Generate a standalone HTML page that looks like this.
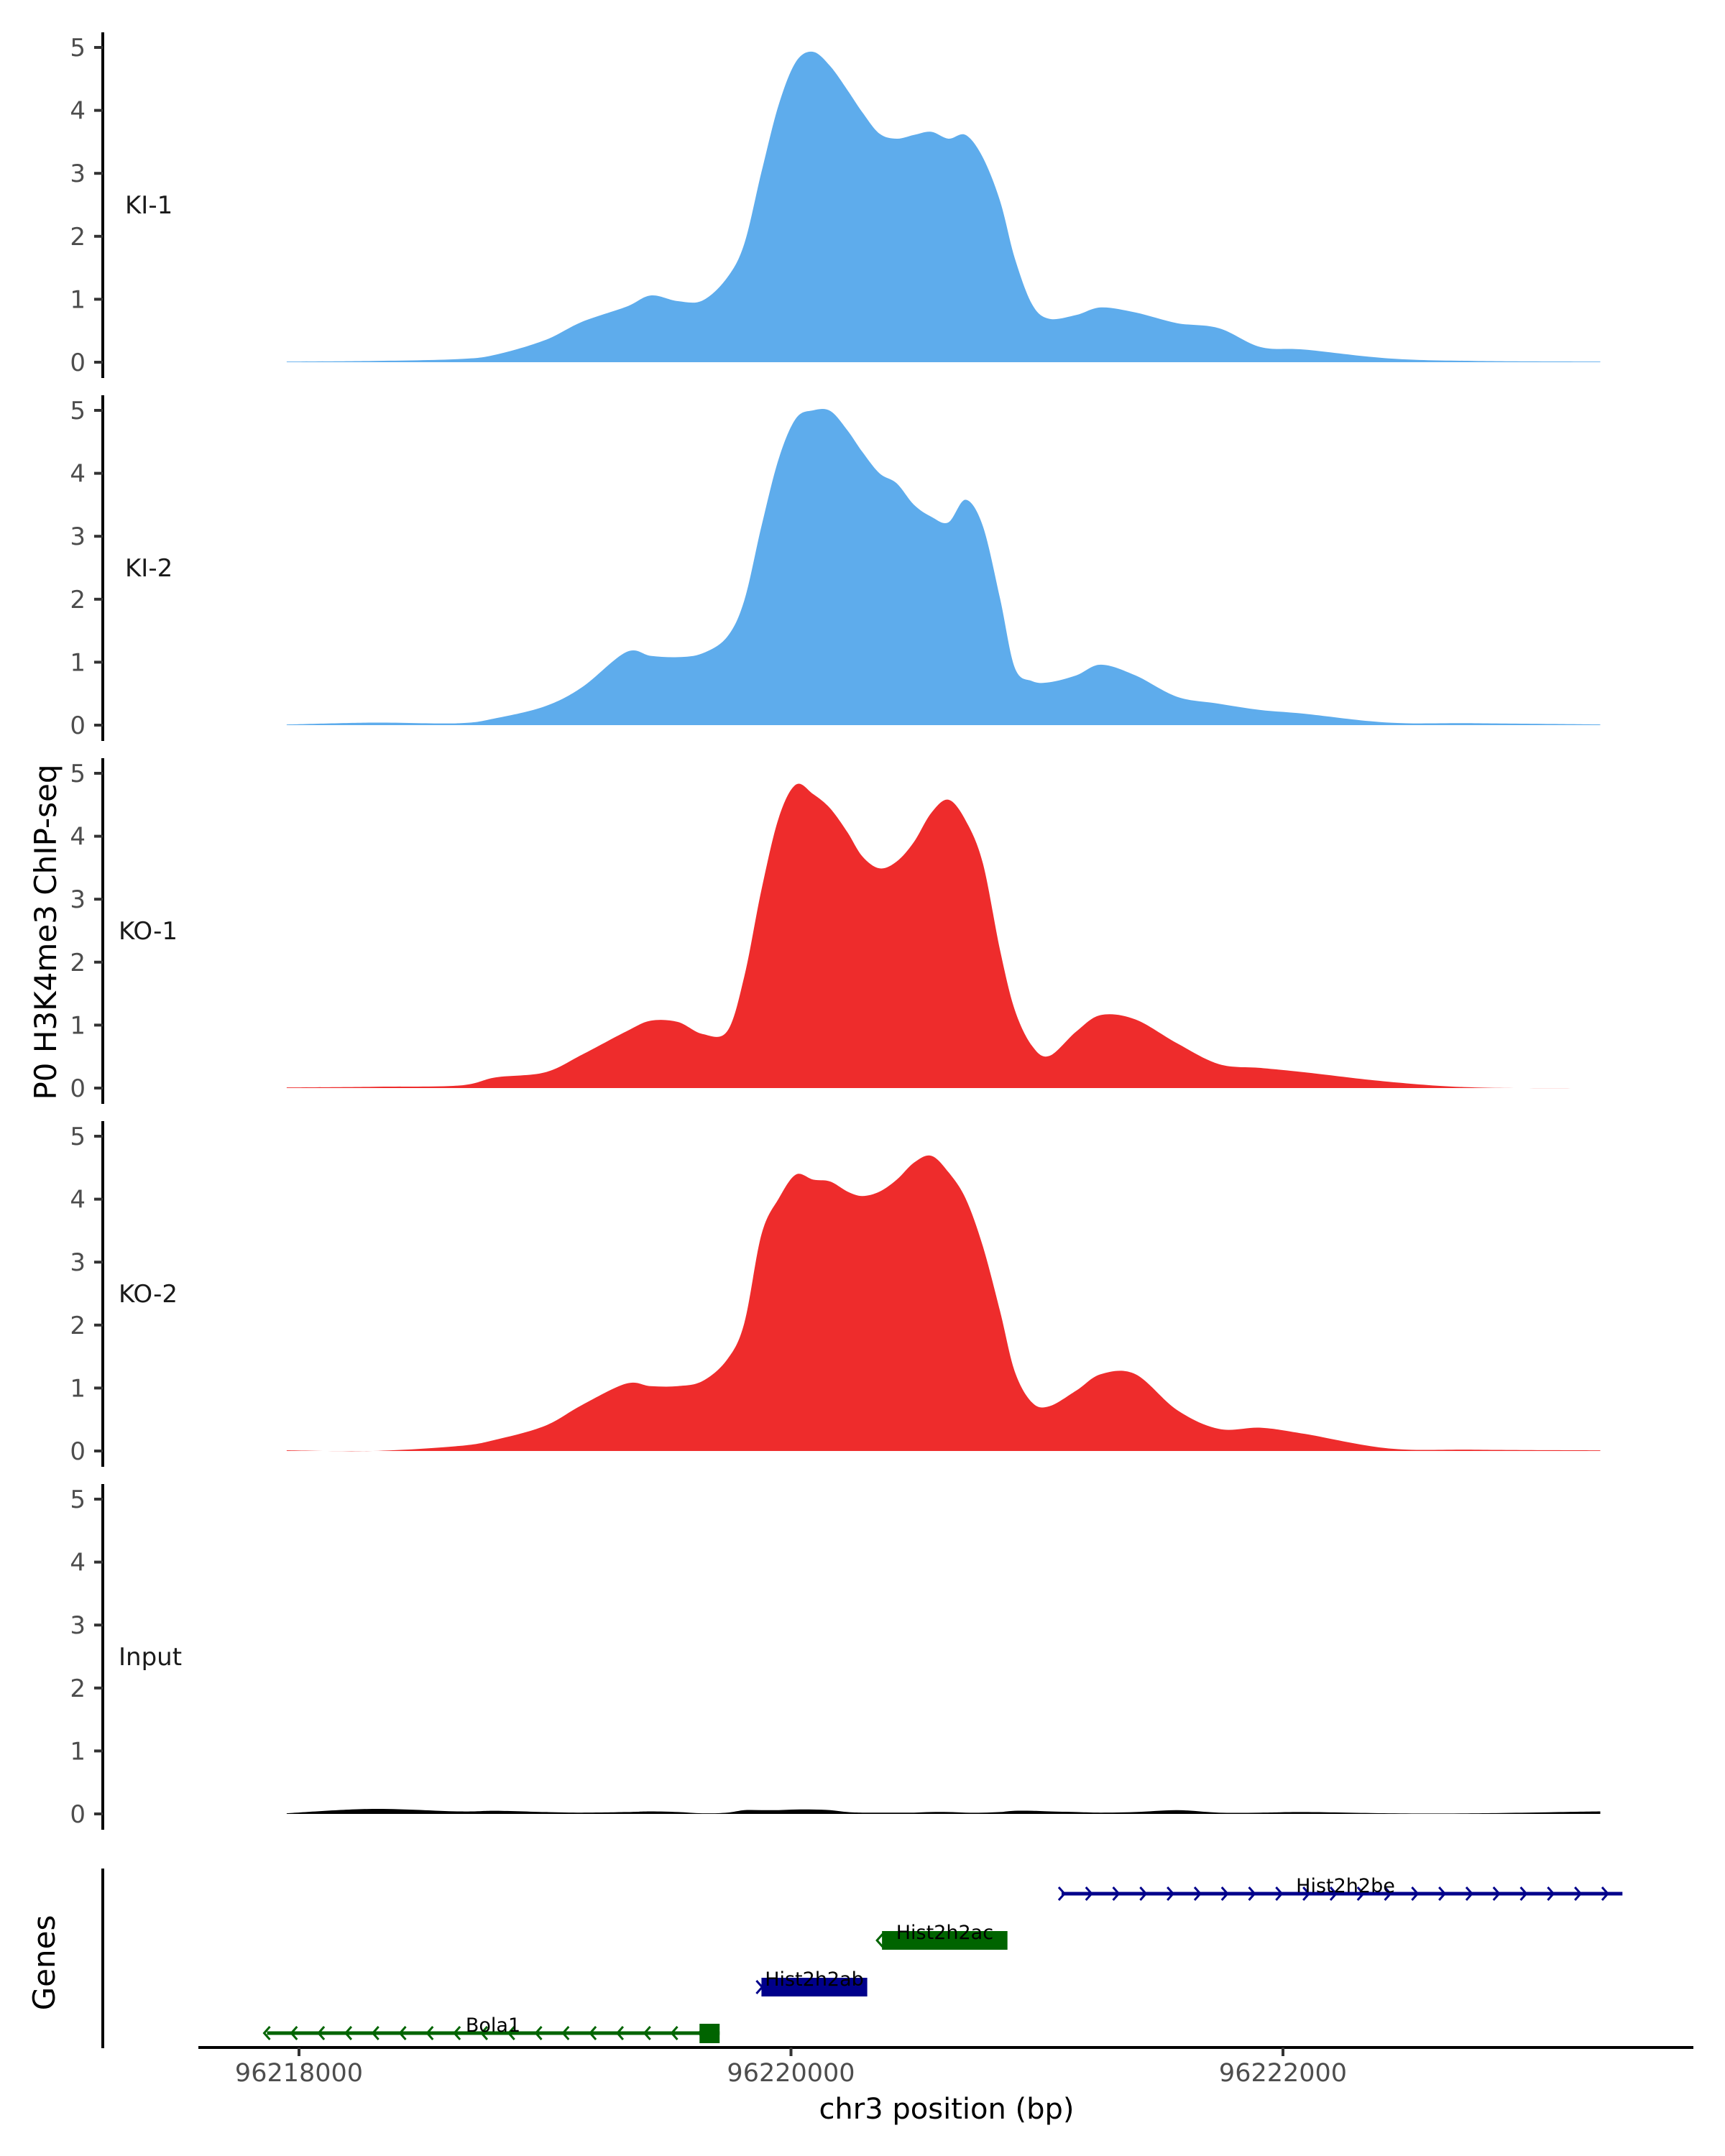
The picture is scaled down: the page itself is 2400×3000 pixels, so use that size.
<!DOCTYPE html>
<html><head><meta charset="utf-8">
<style>
html,body{margin:0;padding:0;background:#fff;}
svg{display:block;font-family:"DejaVu Sans","Liberation Sans",sans-serif;}
</style></head>
<body>
<svg id="chart" width="2400" height="3000" viewBox="0 0 2400 3000" xmlns="http://www.w3.org/2000/svg">
<rect width="2400" height="3000" fill="#fff"/>
<g id="tracks"></g>
<g id="genes"></g>
<g id="xaxis"></g>
<text x="0" y="0" transform="translate(78,1297) rotate(-90)" text-anchor="middle" font-size="42" fill="#000">P0 H3K4me3 ChIP-seq</text>
<text x="0" y="0" transform="translate(76,2731) rotate(-90)" text-anchor="middle" font-size="42" fill="#000">Genes</text>
<text x="1317" y="2948" text-anchor="middle" font-size="40" fill="#000">chr3 position (bp)</text>
</svg>
<script>
// ---- data ----
const positions = [96217950,96218300,96218650,96218800,96219000,96219150,96219330,96219430,96219540,96219640,96219740,96219810,96219880,96219950,96220020,96220090,96220160,96220230,96220290,96220360,96220430,96220500,96220570,96220640,96220710,96220780,96220850,96220910,96220980,96221050,96221160,96221260,96221400,96221570,96221740,96221910,96222090,96222430,96222780,96223290];
const sampleNames = ["KI-1","KI-2","KO-1","KO-2","Input"];
const ki1 = [0.01,0.02,0.05,0.12,0.35,0.64,0.88,1.06,0.97,0.98,1.34,1.88,3.02,4.09,4.77,4.93,4.70,4.32,3.97,3.63,3.55,3.61,3.66,3.55,3.61,3.25,2.56,1.65,0.92,0.69,0.75,0.87,0.79,0.62,0.54,0.24,0.20,0.06,0.02,0.01];
const ki2 = [0.01,0.04,0.03,0.11,0.30,0.60,1.16,1.10,1.08,1.14,1.40,1.98,3.16,4.23,4.87,5.0,4.99,4.68,4.34,4.0,3.84,3.50,3.31,3.22,3.58,3.16,2.01,0.91,0.70,0.68,0.79,0.96,0.79,0.45,0.34,0.24,0.18,0.04,0.03,0.01];
const ko1 = [0.01,0.02,0.04,0.17,0.25,0.53,0.90,1.07,1.05,0.86,0.90,1.77,3.15,4.29,4.82,4.67,4.44,4.06,3.68,3.49,3.60,3.91,4.37,4.58,4.25,3.57,2.19,1.24,0.67,0.51,0.90,1.16,1.09,0.71,0.38,0.32,0.25,0.10,0.01,0.0];
const ko2 = [0.01,0.0,0.08,0.18,0.40,0.73,1.07,1.03,1.03,1.11,1.45,2.03,3.44,4.01,4.39,4.31,4.28,4.12,4.05,4.12,4.31,4.58,4.69,4.43,4.01,3.25,2.22,1.26,0.77,0.71,0.96,1.22,1.22,0.65,0.35,0.37,0.27,0.04,0.02,0.01];
const inputVals = [0.01,0.08,0.04,0.05,0.03,0.02,0.03,0.04,0.03,0.01,0.02,0.06,0.06,0.06,0.07,0.07,0.06,0.03,0.02,0.02,0.02,0.02,0.03,0.03,0.02,0.02,0.03,0.05,0.05,0.04,0.03,0.02,0.03,0.06,0.02,0.02,0.03,0.01,0.01,0.04];
const yTicks = [0,1,2,3,4,5];
const xTicks = [96218000,96220000,96222000];
const geneNames = ["Hist2h2be","Hist2h2ac","Hist2h2ab","Bola1"];
const geneStarts = [96221100,96220370,96219880,96217870];
const geneEnds = [96223380,96220880,96220310,96219710];
const geneStrands = ["+","-","+","-"];
const geneRows = [3,2,1,0];

// ---- scales ----
const NS = "http://www.w3.org/2000/svg";
function xs(bp){ return 416 + (bp - 96218000) * 0.34225; }
const baselines = [504,1009,1514,2019,2524];
const unit = 87.6;
const colors = ["#5eacec","#5eacec","#ee2c2c","#ee2c2c","#000000"];
const series = [ki1,ki2,ko1,ko2,inputVals];
function mk(tag, attrs, parent){ const e=document.createElementNS(NS,tag); for(const k in attrs) e.setAttribute(k,attrs[k]); parent.appendChild(e); return e; }
function smooth(pts){
  let d = '';
  for (let i=0;i<pts.length-1;i++){
    const p0=pts[Math.max(0,i-1)], p1=pts[i], p2=pts[i+1], p3=pts[Math.min(pts.length-1,i+2)];
    const c1x=p1[0]+(p2[0]-p0[0])/6, c1y=p1[1]+(p2[1]-p0[1])/6;
    const c2x=p2[0]-(p3[0]-p1[0])/6, c2y=p2[1]-(p3[1]-p1[1])/6;
    d += ' C'+c1x.toFixed(1)+','+c1y.toFixed(1)+' '+c2x.toFixed(1)+','+c2y.toFixed(1)+' '+p2[0].toFixed(1)+','+p2[1].toFixed(1);
  }
  return d;
}

const tracks = document.getElementById('tracks');
series.forEach((vals, i) => {
  const b = baselines[i];
  const ys = v => b - v * unit;
  const g = mk('g', {}, tracks);
  
  
  const pts = positions.map((p, j) => [xs(p), Math.min(b, ys(vals[j]))]);
  let d = 'M' + xs(positions[0]) + ',' + b + ' L' + pts[0][0] + ',' + pts[0][1] + smooth(pts);
  d += ' L' + xs(positions[positions.length-1]) + ',' + b + ' Z';
  const area = mk('path', {d: d, fill: colors[i], stroke: 'none'}, g);
  
  
  const ax = mk('line', {x1:143, x2:143, y1: ys(5)-21, y2: b+22, stroke:'#000', 'stroke-width':4}, g);
  
  
  yTicks.forEach(t => {
    mk('line', {x1:131, x2:143, y1: ys(t), y2: ys(t), stroke:'#333', 'stroke-width':4}, g);
    const tl = mk('text', {x:119, y: ys(t)+12, 'text-anchor':'end', 'font-size':34, fill:'#4d4d4d'}, g);
    tl.textContent = t;
    
    
  });
  const lab = mk('text', {x: (i<2?174:165), y: ys(2.5)+12, 'font-size':34, fill:'#1a1a1a'}, g);
  lab.textContent = sampleNames[i];
  
  
});

// ---- genes ----
const genes = document.getElementById('genes');
const rowY = [2829, 2765, 2700, 2635];
const gcol = {"+":"#00008b","-":"#006400"};
const ga = mk('line', {x1:143,x2:143,y1:2600,y2:2850,stroke:'#000','stroke-width':4}, genes);


geneNames.forEach((name, i) => {
  const y = rowY[geneRows[i]];
  const x1 = xs(geneStarts[i]), x2 = xs(geneEnds[i]);
  const c = gcol[geneStrands[i]];
  const dir = geneStrands[i] === '+' ? 1 : -1;
  const g = mk('g', {}, genes);
  
  
  const span = x2 - x1;
  if (span > 300) {
    mk('line', {x1:x1, x2:x2, y1:y, y2:y, stroke:c, 'stroke-width':5}, g);
    for (let ax = x1; ax <= x2 - 20; ax += 37.8) {
      mk('polyline', {points: (ax-4*dir)+','+(y-9)+' '+(ax+4*dir)+','+y+' '+(ax-4*dir)+','+(y+9), fill:'none', stroke:c, 'stroke-width':3}, g);
    }
    if (name === 'Bola1') mk('rect', {x: x2 - 28, y: y-13, width: 28, height: 27, fill:c}, g);
  } else {
    mk('rect', {x:x1, y:y-13, width:span, height:26, fill:c}, g);
    mk('polyline', {points:(x1-4*dir-3)+','+(y-9)+' '+(x1+4*dir-3)+','+y+' '+(x1-4*dir-3)+','+(y+9), fill:'none', stroke:c, 'stroke-width':3}, g);
  }
  const t = mk('text', {x: (x1 + x2) / 2, y: y - 2, 'text-anchor':'middle', 'font-size':27, fill:'#000'}, g);
  if (name === 'Hist2h2be') t.setAttribute('x', 1872);
  if (name === 'Bola1') t.setAttribute('x', 686);
  t.textContent = name;
  
  
});

// ---- x axis ----
const xa = document.getElementById('xaxis');
const xl = mk('line', {x1:276, x2:2356, y1:2849, y2:2849, stroke:'#000', 'stroke-width':4}, xa);


xTicks.forEach(t => {
  mk('line', {x1: xs(t), x2: xs(t), y1: 2849, y2: 2861, stroke:'#333', 'stroke-width':4}, xa);
  const tl = mk('text', {x: xs(t), y: 2896, 'text-anchor':'middle', 'font-size':35, fill:'#4d4d4d'}, xa);
  tl.textContent = t;
  
  
});
</script>
</body></html>
